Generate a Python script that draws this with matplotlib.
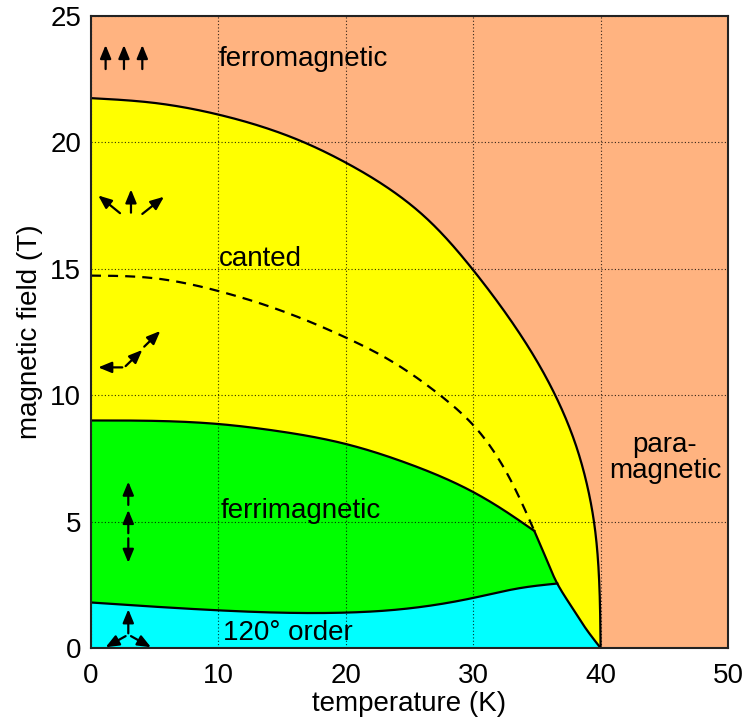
import matplotlib
matplotlib.use("Agg")
import matplotlib.pyplot as plt
import numpy as np

plt.rcParams['font.family'] = ['Liberation Sans', 'DejaVu Sans']

# ---- data ----
outer_T = [0, 5, 10, 16.5, 20, 26, 30, 33.1, 35, 36.44, 38.09, 38.82, 39.48, 39.87, 40]
outer_H = [21.75, 21.56, 21.1, 20.05, 19.2, 17.15, 14.95, 12.85, 11.35, 10.0, 7.98, 6.7, 5.0, 2.86, 0]

dashed_T = [0, 4.9, 10, 14.4, 20, 23.4, 27.3, 30, 32.5, 34.8]
dashed_H = [14.73, 14.63, 14.12, 13.44, 12.28, 11.4, 10.04, 8.82, 7.05, 4.63]

ferri_T = [0, 10, 14.4, 20, 24.7, 30, 32.5, 34.8]
ferri_H = [9.0, 8.86, 8.6, 8.07, 7.33, 6.17, 5.42, 4.63]

steep_T = [34.8, 35.7, 36.6, 37.7, 38.8, 40]
steep_H = [4.63, 3.57, 2.55, 1.65, 0.8, 0]

cyan_T = [0, 10, 20, 23.4, 30, 33.8, 36.6]
cyan_H = [1.8, 1.49, 1.40, 1.49, 1.98, 2.38, 2.55]

x_ticks = [0, 10, 20, 30, 40, 50]
y_ticks = [0, 5, 10, 15, 20, 25]

# spin arrows: (T_tail, H_tail, T_head, H_head)
arrows = [
    (1.15, 22.9, 1.15, 23.85), (2.59, 22.9, 2.59, 23.85), (4.03, 22.9, 4.03, 23.85),
    (2.28, 17.2, 0.57, 17.9), (3.14, 17.22, 3.14, 18.14), (4.03, 17.17, 5.73, 17.85),
    (2.46, 11.1, 0.57, 11.1), (2.72, 11.15, 4.03, 11.79), (4.18, 11.92, 5.44, 12.54),
    (2.93, 5.66, 2.93, 6.58), (2.93, 4.54, 2.93, 5.46), (2.93, 4.34, 2.93, 3.37),
    (2.93, 0.58, 2.93, 1.53), (2.72, 0.47, 1.15, 0.03), (3.14, 0.47, 4.71, 0.03),
]

labels = [
    ("ferromagnetic", 10.05, 23.3, 'left'),
    ("canted", 10.05, 15.4, 'left'),
    ("ferrimagnetic", 10.2, 5.4, 'left'),
    ("120° order", 10.4, 0.6, 'left'),
    ("para-\nmagnetic", 45.05, 7.5, 'center'),
]

c_ferro = '#FFB380'
c_cant = '#FFFF00'
c_ferri = '#00FF00'
c_120 = '#00FFFF'


def _natural(s, v, sd):
    n = len(s)
    h = np.diff(s)
    A = np.zeros((n, n))
    b = np.zeros(n)
    A[0, 0] = A[-1, -1] = 1.0
    for i in range(1, n - 1):
        A[i, i - 1] = h[i - 1]
        A[i, i] = 2 * (h[i - 1] + h[i])
        A[i, i + 1] = h[i]
        b[i] = 6 * ((v[i + 1] - v[i]) / h[i] - (v[i] - v[i - 1]) / h[i - 1])
    M = np.linalg.solve(A, b)
    idx = np.clip(np.searchsorted(s, sd, side='right') - 1, 0, n - 2)
    s0, s1 = s[idx], s[idx + 1]
    hh = s1 - s0
    return (M[idx] * (s1 - sd) ** 3 / (6 * hh) + M[idx + 1] * (sd - s0) ** 3 / (6 * hh)
            + (v[idx] / hh - M[idx] * hh / 6) * (s1 - sd)
            + (v[idx + 1] / hh - M[idx + 1] * hh / 6) * (sd - s0))


def smooth(xs, ys, n=600, yscale=2.0):
    """Parametric natural cubic spline through the read points (drawing only)."""
    x = np.asarray(xs, float)
    y = np.asarray(ys, float) * yscale
    s = np.r_[0, np.cumsum(np.hypot(np.diff(x), np.diff(y)))]
    sd = np.linspace(0, s[-1], n)
    return _natural(s, x, sd), _natural(s, y, sd) / yscale


oT, oH = smooth(outer_T, outer_H)
dT, dH = smooth(dashed_T, dashed_H)
fT, fH = smooth(ferri_T, ferri_H)
sT, sH = smooth(steep_T, steep_H)
cT_, cH_ = smooth(cyan_T, cyan_H)

fig = plt.figure(figsize=(7.42, 7.2), dpi=100)
ax = fig.add_axes([0.1226, 0.1, 0.8585, 0.8778])
ax.set_xlim(0, 50)
ax.set_ylim(0, 25)
ax.set_facecolor(c_ferro)

# canted region (under outer curve)
ax.fill(np.r_[oT, 0], np.r_[oH, 0], color=c_cant, lw=0, zorder=1)
# ferrimagnetic region
ax.fill(np.r_[fT, sT, 0], np.r_[fH, sH, 0], color=c_ferri, lw=0, zorder=1.1)
# 120 degree region
junction = cyan_T[-1]
mask = sT > junction
ax.fill(np.r_[cT_, sT[mask], 0], np.r_[cH_, sH[mask], 0], color=c_120, lw=0, zorder=1.2)

# boundaries
lk = dict(color='black', lw=1.6, zorder=3, solid_joinstyle='round')
ax.plot(oT, oH, **lk)
ax.plot(fT, fH, **lk)
ax.plot(sT, sH, **lk)
ax.plot(cT_, cH_, **lk)
ax.plot(dT, dH, color='black', lw=1.6, ls=(0, (4.5, 3.2)), zorder=3)

# grid
ax.set_xticks(x_ticks)
ax.set_yticks(y_ticks)
ax.set_axisbelow(False)
ax.grid(True, color='black', ls=(0, (1, 2)), lw=0.8, alpha=0.8)

# arrows
for (t0, h0, t1, h1) in arrows:
    ax.annotate('', xy=(t1, h1), xytext=(t0, h0),
                arrowprops=dict(arrowstyle='-|>,head_length=0.8,head_width=0.33',
                                mutation_scale=10, color='black', lw=1.6,
                                shrinkA=0, shrinkB=0), zorder=4)

for (txt, t, h, ha) in labels:
    ax.text(t, h, txt, fontsize=20, ha=ha, va='center', zorder=5,
            linespacing=1.0)

ax.tick_params(length=0, labelsize=20)
ax.tick_params(axis='x', pad=11)
ax.tick_params(axis='y', pad=7)
ax.set_xlabel('temperature (K)', fontsize=20, labelpad=1)
ax.set_ylabel('magnetic field (T)', fontsize=20, labelpad=5)
for s in ax.spines.values():
    s.set_linewidth(1.5)
    s.set_color('#222222')
    s.set_zorder(6)

fig.savefig('out.png', dpi=100)
